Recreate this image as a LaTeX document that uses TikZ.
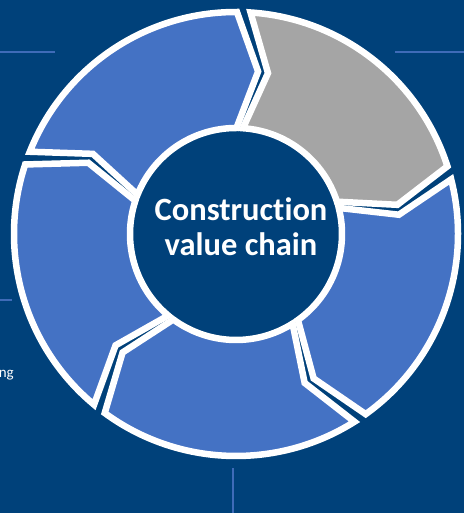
\documentclass[tikz,border=0pt]{standalone}
\usepackage{fontspec}
\setmainfont{Carlito}[Ligatures=NoCommon]
\definecolor{bgblue}{HTML}{00417A}
\definecolor{segblue}{HTML}{4472C4}
\definecolor{seggrey}{HTML}{A5A5A5}
\definecolor{thinline}{HTML}{3F6BB8}
\tikzset{
  seg/.style={draw=white, line width=6.5pt, line join=miter, miter limit=4},
  deco/.style={draw=thinline, line width=1.6pt},
}
\begin{document}
\begin{tikzpicture}[x=1pt,y=1pt]
\fill[bgblue] (0,0) rectangle (464,513);
\useasboundingbox (0,0) rectangle (464,513);
\coordinate (c) at (236,279);
% decorative thin lines
\coordinate (l1a) at (0,461); \coordinate (l1b) at (55,461);
\coordinate (l2a) at (395,461); \coordinate (l2b) at (464,461);
\coordinate (l3a) at (0,213); \coordinate (l3b) at (12,213);
\coordinate (l4a) at (233,45); \coordinate (l4b) at (233,0);
\draw[deco] (l1a) -- (l1b);
\draw[deco] (l2a) -- (l2b);
\draw[deco] (l3a) -- (l3b);
\draw[deco] (l4a) -- (l4b);
\node[anchor=base east, text=white, font=\fontsize{15}{18}\selectfont, inner sep=0pt] (ng) at (14,135) {ng};
% segments: ccw gap, cw gap, colour
\def\dl{1.75}
\def\dt{7.5}
\foreach \ga/\gb/\col [count=\i] in {232/160/segblue, 160/88/segblue, 88/16/seggrey, 16/-56/segblue, -56/-128/segblue}{
  \pgfmathsetmacro{\s}{\ga-\dl}
  \pgfmathsetmacro{\e}{\gb+\dl}
  \pgfmathsetmacro{\et}{\e-\dt}
  \pgfmathsetmacro{\st}{\s-\dt}
  \filldraw[seg, fill=\col]
    ([shift={(\s:222pt)}]c) arc[start angle=\s, end angle=\e, radius=222pt]
    -- ([shift={(\et:164pt)}]c)
    -- ([shift={(\e:106pt)}]c)
    arc[start angle=\e, end angle=\s, radius=106pt]
    -- ([shift={(\st:164pt)}]c)
    -- cycle;
}
\node[text=white, align=center, font=\bfseries\fontsize{32.5}{35}\selectfont] (title) at (241,286) {Construction\\value chain};
\end{tikzpicture}
\end{document}
